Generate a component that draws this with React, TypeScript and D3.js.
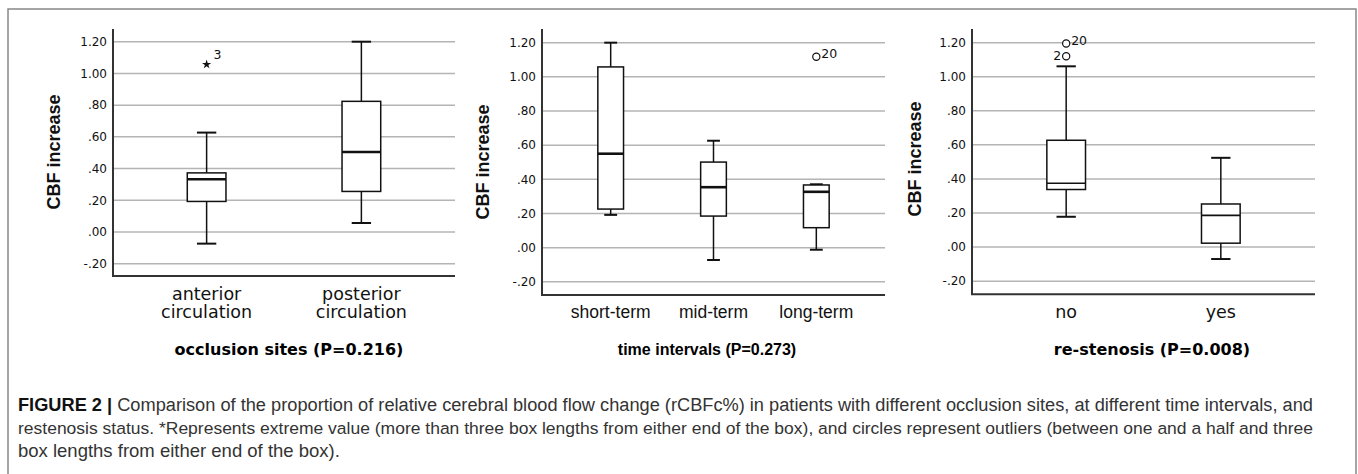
import React from "react";
import * as d3 from "d3";

// ---- data (five-number summaries: low whisker, Q1, median, Q3, high whisker)
const siteCategories = ["anterior circulation", "posterior circulation"];
const siteStats = [
  [-0.073, 0.193, 0.333, 0.373, 0.627],
  [0.057, 0.256, 0.505, 0.824, 1.2],
];
const siteOutliers = [{ cat: 0, value: 1.057, label: "3", kind: "extreme", side: "right" }];

const timeCategories = ["short-term", "mid-term", "long-term"];
const timeStats = [
  [0.192, 0.226, 0.55, 1.058, 1.2],
  [-0.072, 0.185, 0.354, 0.501, 0.626],
  [-0.012, 0.117, 0.327, 0.367, 0.371],
];
const timeOutliers = [{ cat: 2, value: 1.118, label: "20", kind: "outlier", side: "right" }];

const restCategories = ["no", "yes"];
const restStats = [
  [0.178, 0.338, 0.375, 0.627, 1.061],
  [-0.07, 0.023, 0.186, 0.253, 0.524],
];
const restOutliers = [
  { cat: 0, value: 1.195, label: "20", kind: "outlier", side: "right" },
  { cat: 0, value: 1.12, label: "2", kind: "outlier", side: "left" },
];

const yTicks = [-0.2, 0, 0.2, 0.4, 0.6, 0.8, 1.0, 1.2];
const yDomain = [-0.277, 1.28];

const titles = ["occlusion sites (P=0.216)", "time intervals (P=0.273)", "re-stenosis (P=0.008)"];

const captionLines = [
  "Comparison of the proportion of relative cerebral blood flow change (rCBFc%) in patients with different occlusion sites, at different time intervals, and",
  "restenosis status. *Represents extreme value (more than three box lengths from either end of the box), and circles represent outliers (between one and a half and three",
  "box lengths from either end of the box).",
];

const tickFormat = (v) => v.toFixed(2).replace(/^(-?)0\./, "$1.");

const lucida = "'DejaVu Sans', Verdana, sans-serif";
const arial = "'Liberation Sans', Arial, sans-serif";

const panels = [
  {
    cats: siteCategories, stats: siteStats, outliers: siteOutliers, title: titles[0],
    left: 113, right: 455, top: 29, bottom: 276, padding: 0.605, catFont: lucida,
    labelX: 54, labelY: 152, titleX: 289, titleFont: lucida, medianWidth: 2.6, wrap: true,
  },
  {
    cats: timeCategories, stats: timeStats, outliers: timeOutliers, title: titles[1],
    left: 542, right: 885, top: 29, bottom: 295, padding: 0.668, catFont: arial,
    labelX: 483, labelY: 162, titleX: 707, titleFont: arial, medianWidth: 2.6, wrap: false,
  },
  {
    cats: restCategories, stats: restStats, outliers: restOutliers, title: titles[2],
    left: 972, right: 1315, top: 29, bottom: 294.3, padding: 0.609, catFont: lucida,
    labelX: 915, labelY: 159, titleX: 1152, titleFont: lucida, medianWidth: 1.6, wrap: false,
  },
];

const Panel = ({ p }) => {
  const x = d3.scalePoint().domain(p.cats).range([p.left, p.right]).padding(p.padding);
  const y = d3.scaleLinear().domain(yDomain).range([p.bottom, p.top]);
  const boxW = x.step() * 0.25;
  const capW = boxW / 2;
  const star = d3.symbol().type(d3.symbolStar).size(26)();

  return (
    <g>
      {/* grid lines */}
      {yTicks.map((t) => (
        <line key={"g" + t} x1={p.left} x2={p.right} y1={y(t)} y2={y(t)} stroke="#b4b4b4" strokeWidth={1.5} />
      ))}
      {/* tick labels */}
      {yTicks.map((t) => (
        <text key={"t" + t} x={p.left - 6} y={y(t)} dy="0.36em" textAnchor="end" fontFamily={lucida} fontSize={12} fill="#111">
          {tickFormat(t)}
        </text>
      ))}
      {/* axes */}
      <line x1={p.left} x2={p.left} y1={p.top} y2={p.bottom} stroke="#333" strokeWidth={2} />
      <line x1={p.left - 1} x2={p.right} y1={p.bottom} y2={p.bottom} stroke="#333" strokeWidth={2} />

      {/* boxes */}
      {p.stats.map((s, i) => {
        const cx = x(p.cats[i]);
        const [lo, q1, med, q3, hi] = s;
        return (
          <g key={"b" + i} stroke="#111" strokeWidth={1.5} fill="none">
            <line x1={cx} x2={cx} y1={y(hi)} y2={y(q3)} />
            <line x1={cx} x2={cx} y1={y(q1)} y2={y(lo)} />
            <line x1={cx - capW / 2} x2={cx + capW / 2} y1={y(hi)} y2={y(hi)} strokeWidth={2} />
            <line x1={cx - capW / 2} x2={cx + capW / 2} y1={y(lo)} y2={y(lo)} strokeWidth={2} />
            <rect x={cx - boxW / 2} y={y(q3)} width={boxW} height={y(q1) - y(q3)} fill="#fff" />
            <line x1={cx - boxW / 2} x2={cx + boxW / 2} y1={y(med)} y2={y(med)} strokeWidth={p.medianWidth} />
          </g>
        );
      })}

      {/* outliers */}
      {p.outliers.map((o, i) => {
        const cx = x(p.cats[o.cat]);
        const cy = y(o.value);
        return (
          <g key={"o" + i}>
            {o.kind === "extreme" ? (
              <path d={star} transform={`translate(${cx},${cy})`} fill="#111" />
            ) : (
              <circle cx={cx} cy={cy} r={3.6} fill="#fff" stroke="#111" strokeWidth={1.2} />
            )}
            <text
              x={o.side === "right" ? cx + (o.kind === "extreme" ? 7 : 5) : cx - 5}
              y={o.kind === "extreme" ? cy - 5 : cy - (o.side === "right" ? 0 : -4)}
              textAnchor={o.side === "right" ? "start" : "end"}
              fontFamily={lucida}
              fontSize={12.5}
              fill="#111"
              dy={o.side === "right" && o.kind !== "extreme" ? "0.1em" : "0"}
            >
              {o.label}
            </text>
          </g>
        );
      })}

      {/* category labels */}
      {p.cats.map((c) => {
        const cx = x(c);
        if (p.wrap) {
          const parts = c.split(" ");
          return (
            <text key={"c" + c} x={cx} textAnchor="middle" fontFamily={p.catFont} fontSize={17.5} fill="#111">
              <tspan x={cx} y={300}>{parts[0]}</tspan>
              <tspan x={cx} y={318}>{parts[1]}</tspan>
            </text>
          );
        }
        return (
          <text key={"c" + c} x={cx} y={318} textAnchor="middle" fontFamily={p.catFont} fontSize={17.5} fill="#111">
            {c}
          </text>
        );
      })}

      {/* y label */}
      <text
        transform={`translate(${p.labelX},${p.labelY}) rotate(-90)`}
        textAnchor="middle"
        dy="0.35em"
        fontFamily={arial}
        fontWeight="bold"
        fontSize={18}
        fill="#111"
      >
        CBF increase
      </text>

      {/* panel title */}
      <text x={p.titleX} y={355} textAnchor="middle" fontFamily={p.titleFont} fontWeight="bold" fontSize={16} fill="#000">
        {p.title}
      </text>
    </g>
  );
};

export default function App() {
  return (
    <svg
      width={1358}
      height={474}
      style={{ position: "absolute", left: 0, top: 0, display: "block", background: "#fff" }}
    >
      <rect x={0} y={0} width={1358} height={474} fill="#fff" />
      <rect x={8} y={9} width={1348} height={480} fill="none" stroke="#888" strokeWidth={1.5} />
      {panels.map((p, i) => (
        <Panel key={i} p={p} />
      ))}
      <g fontFamily={arial} fontSize={18} fill="#333">
        <text x={18} y={411} textLength={1295} lengthAdjust="spacingAndGlyphs">
          <tspan fontWeight="bold" fill="#111">FIGURE 2 | </tspan>
          {captionLines[0]}
        </text>
        <text x={18} y={434} fontSize={17.2} textLength={1295} lengthAdjust="spacingAndGlyphs">
          {captionLines[1]}
        </text>
        <text x={18} y={457} fontSize={18.5}>
          {captionLines[2]}
        </text>
      </g>
    </svg>
  );
}
